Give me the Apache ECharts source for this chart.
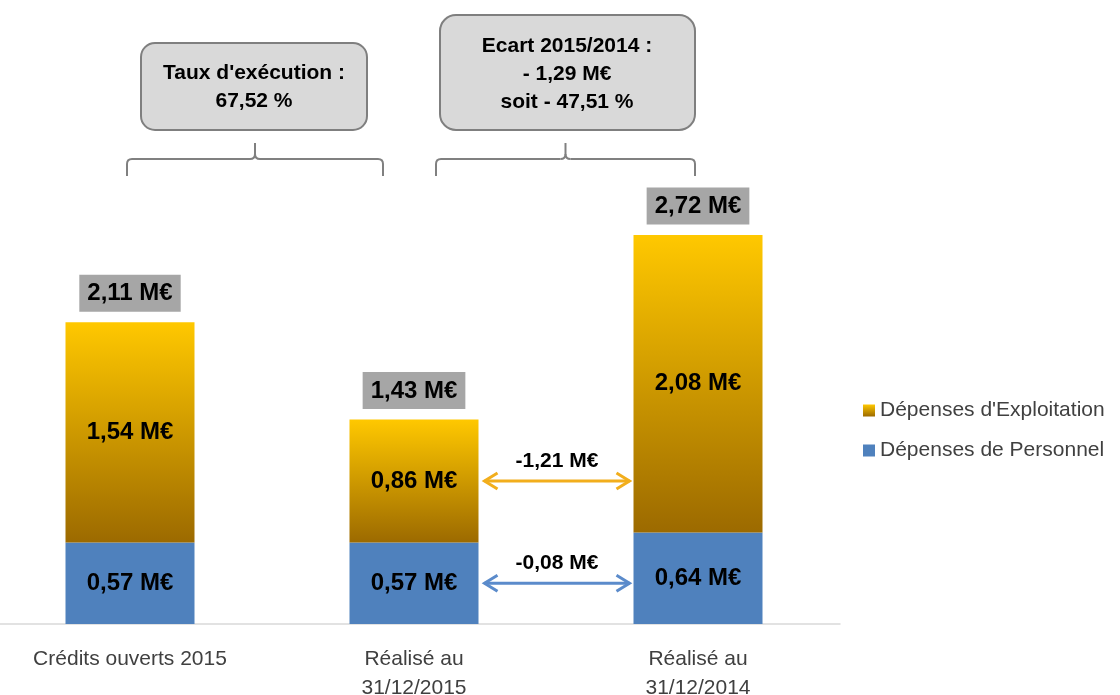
<!DOCTYPE html>
<html>
<head>
<meta charset="utf-8">
<script src="https://cdn.jsdelivr.net/npm/echarts@6/dist/echarts.min.js"></script>
<style>
  html, body { margin: 0; padding: 0; background: #fff; }
  #chart { width: 1120px; height: 695px; }
</style>
</head>
<body>
<div id="chart"></div>
<script>
const categories = ['Crédits ouverts 2015', 'Réalisé au\n31/12/2015', 'Réalisé au\n31/12/2014'];
const personnel = [0.57, 0.57, 0.64];
const exploitation = [1.54, 0.86, 2.08];
const totals = [2.11, 1.43, 2.72];
const gapLabels = ['-1,21 M€', '-0,08 M€'];

const font = "'Liberation Sans', Arial, sans-serif";
const fmt = v => v.toFixed(2).replace('.', ',') + ' M€';

const chart = echarts.init(document.getElementById('chart'));

const option = {
  animation: false,
  textStyle: { fontFamily: font },
  grid: { left: -12, right: 280, top: 195, bottom: 71, outerBoundsMode: 'none', containLabel: false },
  legend: {
    orient: 'vertical',
    left: 858,
    top: 395,
    itemWidth: 12,
    itemHeight: 12,
    itemGap: 19,
    icon: 'rect',
    data: ["Dépenses d'Exploitation", 'Dépenses de Personnel'],
    textStyle: { fontSize: 21, color: '#404040', fontFamily: font }
  },
  xAxis: {
    type: 'category',
    data: categories,
    axisLine: { lineStyle: { color: '#D9D9D9', width: 1.5 } },
    axisTick: { show: false },
    axisLabel: { fontSize: 21, color: '#404040', margin: 21, lineHeight: 29, interval: 0 }
  },
  yAxis: {
    type: 'value',
    min: 0,
    max: 3,
    show: false,
    splitLine: { show: false }
  },
  series: [
    {
      name: 'Dépenses de Personnel',
      type: 'bar',
      stack: 'total',
      barWidth: 129,
      data: personnel,
      itemStyle: { color: '#4F81BD' },
      label: {
        show: true,
        position: 'inside',
        formatter: p => fmt(p.value),
        fontSize: 24,
        fontWeight: 'bold',
        color: '#000'
      }
    },
    {
      name: "Dépenses d'Exploitation",
      type: 'bar',
      stack: 'total',
      barWidth: 129,
      data: exploitation,
      itemStyle: {
        color: new echarts.graphic.LinearGradient(0, 0, 0, 1, [
          { offset: 0, color: '#FFC800' },
          { offset: 1, color: '#9C6A00' }
        ])
      },
      label: {
        show: true,
        position: 'inside',
        formatter: p => fmt(p.value),
        fontSize: 24,
        fontWeight: 'bold',
        color: '#000'
      }
    },
    {
      name: 'Total',
      type: 'scatter',
      data: totals,
      symbolSize: 1,
      itemStyle: { color: 'rgba(255,255,255,0)' },
      silent: true,
      label: {
        show: true,
        position: 'top',
        distance: 10,
        formatter: p => fmt(p.value),
        fontSize: 24,
        fontWeight: 'bold',
        color: '#000000',
        opacity: 1,
        backgroundColor: '#A6A6A6',
        padding: [7, 8, 6, 8]
      }
    }
  ]
};
chart.setOption(option);

// annotations: callouts and braces
const boxStyle = { fill: '#D9D9D9', stroke: '#7F7F7F', lineWidth: 2 };
const calloutText = (x, y, text) => ({
  type: 'text', x: x, y: y,
  style: { text: text, fill: '#000', font: 'bold 21px ' + font, align: 'center', verticalAlign: 'middle', lineHeight: 28 }
});
const braceStyle = { fill: null, stroke: '#808080', lineWidth: 2 };
const brace = (x1, x2) => {
  const m = (x1 + x2) / 2, r = 5, yh = 159, yb = 176, yt = 143;
  const parts = [
    { type: 'line', shape: { x1: x1, y1: yb, x2: x1, y2: yh + r } },
    { type: 'bezierCurve', shape: { x1: x1, y1: yh + r, cpx1: x1, cpy1: yh, x2: x1 + r, y2: yh } },
    { type: 'line', shape: { x1: x1 + r, y1: yh, x2: m - r, y2: yh } },
    { type: 'bezierCurve', shape: { x1: m - r, y1: yh, cpx1: m, cpy1: yh, x2: m, y2: yh - r } },
    { type: 'line', shape: { x1: m, y1: yh - r, x2: m, y2: yt } },
    { type: 'bezierCurve', shape: { x1: m, y1: yh - r, cpx1: m, cpy1: yh, x2: m + r, y2: yh } },
    { type: 'line', shape: { x1: m + r, y1: yh, x2: x2 - r, y2: yh } },
    { type: 'bezierCurve', shape: { x1: x2 - r, y1: yh, cpx1: x2, cpy1: yh, x2: x2, y2: yh + r } },
    { type: 'line', shape: { x1: x2, y1: yh + r, x2: x2, y2: yb } }
  ];
  parts.forEach(p => { p.style = braceStyle; });
  return parts;
};

const graphics = [
  { type: 'rect', shape: { x: 141, y: 43, width: 226, height: 87, r: 14 }, style: boxStyle },
  calloutText(254, 87, "Taux d'exécution :\n67,52 %"),
  { type: 'rect', shape: { x: 440, y: 15, width: 255, height: 115, r: 16 }, style: boxStyle },
  calloutText(567, 74, 'Ecart 2015/2014 :\n- 1,29 M€\nsoit - 47,51 %'),
  ...brace(127, 383),
  ...brace(436, 695)
];

// double arrows between the 2015 and 2014 bars
const half = 129 / 2;
const xa = chart.convertToPixel({ xAxisIndex: 0 }, 1) + half + 6;
const xb = chart.convertToPixel({ xAxisIndex: 0 }, 2) - half - 4;
const arrows = [
  { y: chart.convertToPixel({ yAxisIndex: 0 }, personnel[1] + exploitation[1] / 2), color: '#F2AE1C', text: gapLabels[0] },
  { y: chart.convertToPixel({ yAxisIndex: 0 }, personnel[1] / 2), color: '#5B8BCB', text: gapLabels[1] }
];
arrows.forEach(a => {
  const st = { stroke: a.color, lineWidth: 3, fill: null, lineJoin: 'miter' };
  graphics.push(
    { type: 'line', shape: { x1: xa, y1: a.y, x2: xb, y2: a.y }, style: st },
    { type: 'polyline', shape: { points: [[xa + 13, a.y - 8], [xa, a.y], [xa + 13, a.y + 8]] }, style: st },
    { type: 'polyline', shape: { points: [[xb - 13, a.y - 8], [xb, a.y], [xb - 13, a.y + 8]] }, style: st },
    {
      type: 'text', x: (xa + xb) / 2, y: a.y - 20,
      style: { text: a.text, fill: '#000', font: 'bold 21px ' + font, align: 'center', verticalAlign: 'middle' }
    }
  );
});

chart.setOption({ graphic: graphics });
</script>
</body>
</html>
